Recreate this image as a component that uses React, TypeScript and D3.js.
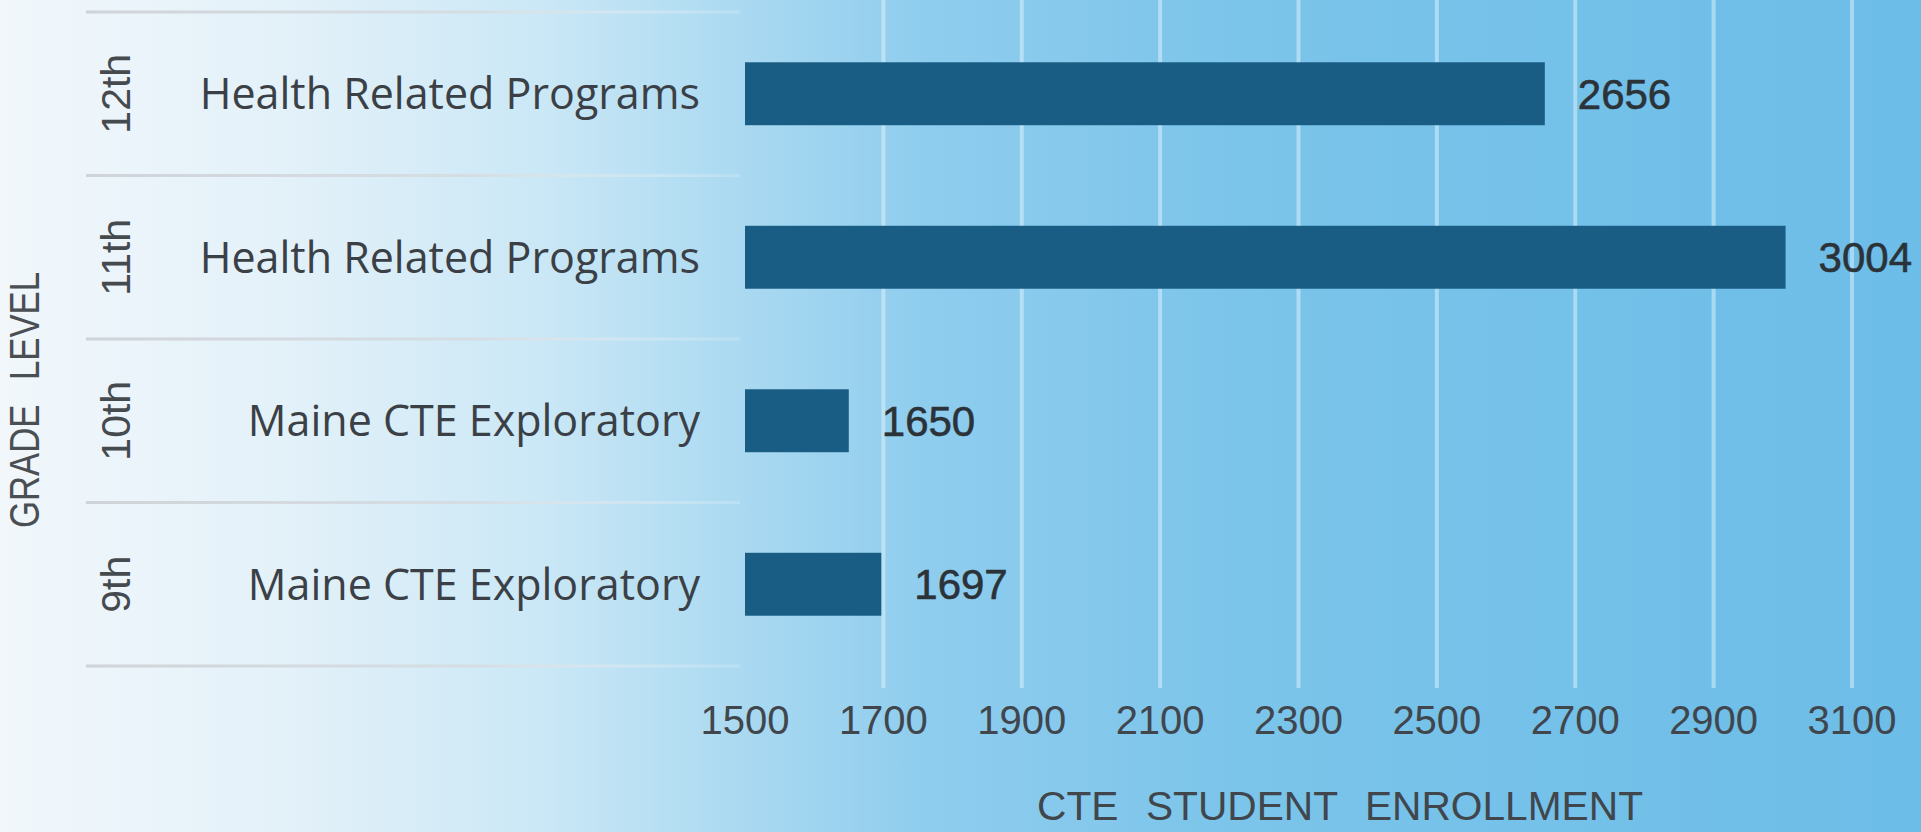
import React from 'react';
import * as d3 from 'd3';

const grades = ['12th', '11th', '10th', '9th'];
const programs = ['Health Related Programs', 'Health Related Programs', 'Maine CTE Exploratory', 'Maine CTE Exploratory'];
const enrollment = [2656, 3004, 1650, 1697];
const xTicks = [1500, 1700, 1900, 2100, 2300, 2500, 2700, 2900, 3100];

const W = 1921;
const H = 832;

const App = () => {
  const x = d3.scaleLinear().domain([1500, 3100]).range([745, 1852]);
  const rows = d3.scaleBand<string>().domain(grades).range([12, 666]).padding(0);
  const barH = rows.bandwidth() * 0.385;
  const mid = (g: string) => rows(g)! + rows.bandwidth() / 2;

  const textColor = '#3b4046';
  const numFont = 'Liberation Sans, Arial, sans-serif';

  return (
    <svg
      width={W}
      height={H}
      viewBox={`0 0 ${W} ${H}`}
      style={{ position: 'absolute', left: 0, top: 0, display: 'block' }}
    >
      <defs>
        <linearGradient id="bg" x1="0" y1="0" x2="1" y2="0">
          <stop offset="0" stopColor="#f1f7fb" />
          <stop offset="0.15" stopColor="#e3f1f9" />
          <stop offset="0.28" stopColor="#cbe8f6" />
          <stop offset="0.38" stopColor="#acdaf1" />
          <stop offset="0.48" stopColor="#8fcdee" />
          <stop offset="0.65" stopColor="#7bc4ea" />
          <stop offset="1" stopColor="#6cbde8" />
        </linearGradient>
        <linearGradient id="sep" gradientUnits="userSpaceOnUse" x1="86" y1="0" x2="740" y2="0">
          <stop offset="0" stopColor="#cdd2d7" stopOpacity="0.95" />
          <stop offset="0.6" stopColor="#d6dbe0" stopOpacity="0.85" />
          <stop offset="1" stopColor="#eef6fb" stopOpacity="0.2" />
        </linearGradient>
      </defs>

      <rect x={0} y={0} width={W} height={H} fill="url(#bg)" />

      {/* grid */}
      {xTicks.slice(1).map(t => (
        <line
          key={`g${t}`}
          x1={x(t)}
          x2={x(t)}
          y1={0}
          y2={688}
          stroke="#e4f3fb"
          strokeOpacity={0.5}
          strokeWidth={4}
        />
      ))}

      {/* row separators */}
      {[...grades.map(g => rows(g)!), 666].map((yy, i) => (
        <line
          key={`s${i}`}
          x1={86}
          x2={740}
          y1={yy}
          y2={yy}
          stroke="url(#sep)"
          strokeWidth={3}
        />
      ))}

      {/* bars */}
      {grades.map((g, i) => (
        <rect
          key={`b${g}`}
          x={x(1500)}
          y={mid(g) - barH / 2}
          width={x(enrollment[i]) - x(1500)}
          height={barH}
          fill="#1a5d84"
        />
      ))}

      {/* value labels */}
      {grades.map((g, i) => (
        <text
          key={`v${g}`}
          x={x(enrollment[i]) + 33}
          y={mid(g)}
          dy="0.36em"
          fontFamily={numFont}
          fontSize={42}
          fill="#2b3238"
          stroke="#2b3238"
          strokeWidth={0.6}
        >
          {enrollment[i]}
        </text>
      ))}

      {/* category labels */}
      {grades.map((g, i) => (
        <text
          key={`c${g}`}
          x={700}
          y={mid(g)}
          dy="0.36em"
          textAnchor="end"
          fontFamily="Open Sans, sans-serif"
          fontSize={43}
          fill={textColor}
        >
          {programs[i]}
        </text>
      ))}

      {/* grade labels */}
      {grades.map(g => (
        <text
          key={`l${g}`}
          transform={`translate(130,${mid(g)}) rotate(-90)`}
          textAnchor="middle"
          fontFamily={numFont}
          fontSize={41}
          fill="#454a4f"
        >
          {g}
        </text>
      ))}

      {/* x tick labels */}
      {xTicks.map(t => (
        <text
          key={`t${t}`}
          x={x(t)}
          y={720}
          dy="0.36em"
          textAnchor="middle"
          fontFamily={numFont}
          fontSize={40}
          fill="#40464c"
        >
          {t}
        </text>
      ))}

      {/* axis titles */}
      <text
        x={1340}
        y={806}
        dy="0.36em"
        textAnchor="middle"
        fontFamily={numFont}
        fontSize={40}
        fill="#40464c"
        textLength={606}
        lengthAdjust="spacingAndGlyphs"
        style={{ wordSpacing: '16px' }}
      >
        CTE STUDENT ENROLLMENT
      </text>
      <text
        transform={`translate(39,400) rotate(-90)`}
        textAnchor="middle"
        fontFamily={numFont}
        fontSize={42}
        fill="#4a4f54"
        textLength={256}
        lengthAdjust="spacingAndGlyphs"
        style={{ wordSpacing: '18px' }}
      >
        GRADE LEVEL
      </text>
    </svg>
  );
};

export default App;
